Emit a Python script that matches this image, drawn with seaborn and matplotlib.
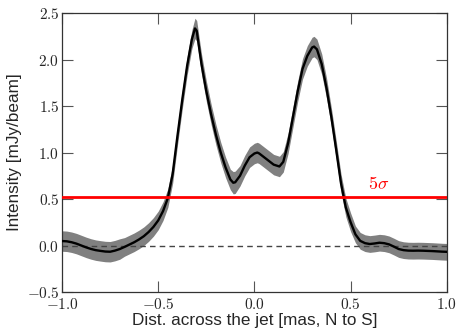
import matplotlib
matplotlib.use("Agg")
import matplotlib.pyplot as plt
import seaborn as sns
import pandas as pd

# profile across the jet
dist = [-1.0, -0.975, -0.95, -0.925, -0.9, -0.875, -0.85, -0.825, -0.8, -0.775,
        -0.75, -0.725, -0.7, -0.675, -0.65, -0.625, -0.6, -0.575, -0.55, -0.525,
        -0.5, -0.475, -0.45, -0.425, -0.4, -0.375, -0.35, -0.325, -0.309, -0.3,
        -0.275, -0.25, -0.225, -0.2, -0.175, -0.15, -0.125, -0.11, -0.1, -0.075,
        -0.05, -0.025, 0.0, 0.015, 0.025, 0.05, 0.075, 0.1, 0.13, 0.15,
        0.175, 0.2, 0.225, 0.25, 0.275, 0.3, 0.31, 0.325, 0.35, 0.375,
        0.4, 0.425, 0.45, 0.475, 0.5, 0.525, 0.55, 0.575, 0.6, 0.625,
        0.65, 0.675, 0.7, 0.725, 0.75, 0.775, 0.8, 0.825, 0.85, 0.875,
        0.9, 0.925, 0.95, 0.975, 1.0]
intensity = [0.048, 0.045, 0.035, 0.02, 0.0, -0.02, -0.037, -0.05, -0.058, -0.065,
             -0.067, -0.055, -0.038, -0.015, 0.01, 0.035, 0.065, 0.1, 0.145, 0.2,
             0.27, 0.37, 0.51, 0.77, 1.18, 1.57, 1.93, 2.22, 2.335, 2.31,
             1.95, 1.66, 1.41, 1.19, 1.0, 0.84, 0.71, 0.675, 0.68, 0.75,
             0.86, 0.95, 0.99, 1.0, 0.99, 0.95, 0.91, 0.87, 0.85, 0.9,
             1.1, 1.38, 1.66, 1.9, 2.04, 2.13, 2.14, 2.11, 1.95, 1.69,
             1.38, 1.03, 0.67, 0.41, 0.25, 0.12, 0.05, 0.025, 0.016, 0.022,
             0.03, 0.025, 0.012, -0.012, -0.038, -0.05, -0.055, -0.056, -0.055, -0.056,
             -0.058, -0.06, -0.063, -0.066, -0.068]
err = [0.11, 0.11, 0.11, 0.11, 0.11, 0.11, 0.11, 0.11, 0.11, 0.11,
       0.11, 0.11, 0.11, 0.1, 0.1, 0.1, 0.1, 0.1, 0.1, 0.1,
       0.1, 0.1, 0.1, 0.1, 0.1, 0.1, 0.1, 0.1, 0.11, 0.11,
       0.11, 0.11, 0.11, 0.11, 0.11, 0.11, 0.11, 0.12, 0.12, 0.11,
       0.11, 0.11, 0.11, 0.11, 0.11, 0.11, 0.11, 0.11, 0.11, 0.11,
       0.11, 0.11, 0.11, 0.11, 0.11, 0.11, 0.11, 0.11, 0.11, 0.11,
       0.1, 0.1, 0.1, 0.1, 0.1, 0.09, 0.09, 0.09, 0.09, 0.09,
       0.09, 0.09, 0.09, 0.09, 0.09, 0.09, 0.09, 0.09, 0.09, 0.09,
       0.09, 0.09, 0.09, 0.09, 0.09]
five_sigma = 0.52

xticks = [-1.0, -0.5, 0.0, 0.5, 1.0]
yticks = [-0.5, 0.0, 0.5, 1.0, 1.5, 2.0, 2.5]

df = pd.DataFrame({"dist": dist, "intensity": intensity, "err": err})
df["lo"] = df["intensity"] - df["err"]
df["hi"] = df["intensity"] + df["err"]

sns.set_style("ticks")
plt.rcParams["font.family"] = ["Liberation Sans", "DejaVu Sans"]
plt.rcParams["mathtext.fontset"] = "cm"

fig = plt.figure(figsize=(4.63, 3.36), dpi=100)
ax = fig.add_axes([0.134, 0.131, 0.831, 0.830])

ax.fill_between(df["dist"], df["lo"], df["hi"], color="#808080", lw=0, zorder=1)
ax.axhline(0, color="#444444", ls="--", lw=1.0, dashes=(4, 3), zorder=2)
sns.lineplot(data=df, x="dist", y="intensity", color="black", lw=1.7, ax=ax, zorder=3)
ax.axhline(five_sigma, color="red", lw=2.0, zorder=4)
ax.text(0.647, 0.66, r"$5\sigma$", color="red", fontsize=13, ha="center", va="center")

ax.set_xlim(-1.0, 1.0)
ax.set_ylim(-0.5, 2.5)
ax.set_xticks(xticks)
ax.set_yticks(yticks)
ax.set_xticklabels([rf"${v:.1f}$" for v in xticks], fontsize=11)
ax.set_yticklabels([rf"${v:.1f}$" for v in yticks], fontsize=11)
ax.tick_params(direction="in", length=8, width=0.8, top=True, right=True,
               color="#555555", pad=2)
ax.tick_params(axis="x", pad=3.5)
for s in ax.spines.values():
    s.set_linewidth(0.9)
    s.set_color("#333333")

ax.set_xlabel("Dist. across the jet [mas, N to S]", fontsize=12.3, labelpad=1)
ax.set_ylabel("Intensity [mJy/beam]", fontsize=12.3, labelpad=3)

fig.savefig("out.png", dpi=100)
